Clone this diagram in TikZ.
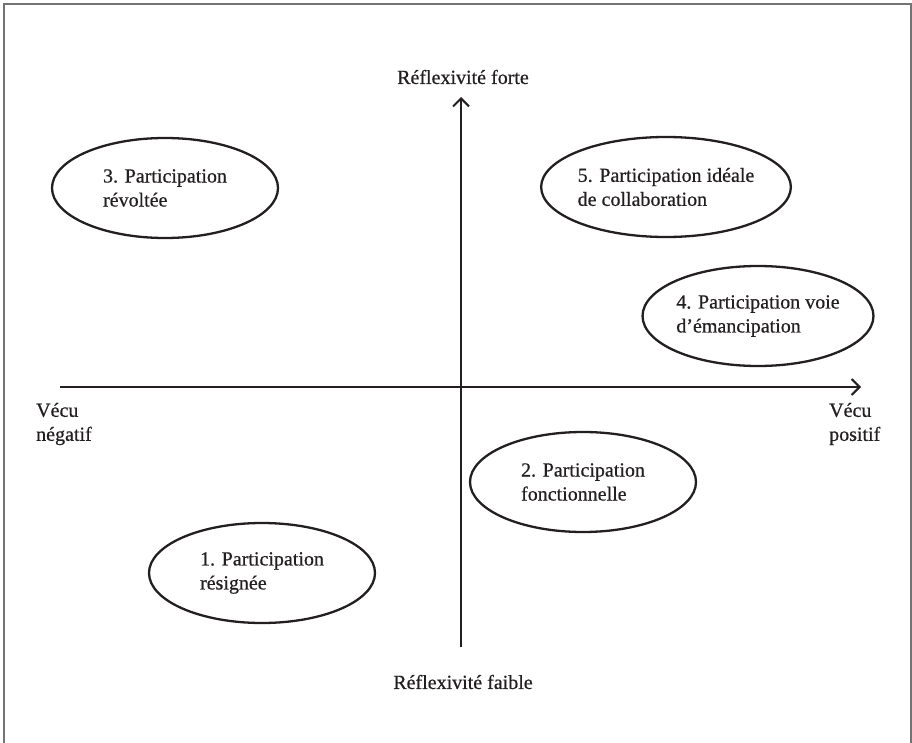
\documentclass[tikz,border=0pt]{standalone}
\usepackage{fontspec}
\setmainfont{Liberation Serif}[FakeBold=0.6]
\usetikzlibrary{shapes.geometric,arrows.meta}
\definecolor{ink}{HTML}{231F20}
\tikzset{
  quad/.style={ellipse, draw=ink, line width=2.3pt, minimum width=226pt, minimum height=100pt, inner sep=0pt, align=left, text=ink, font=\fontsize{20}{24}\selectfont},
  lbl/.style={inner sep=0pt, text=ink, font=\fontsize{20}{24}\selectfont},
  axis/.style={draw=ink, line width=2.3pt, -{Straight Barb[length=8pt,width=16pt,line width=2pt]}},
  frame/.style={draw=black!55, line width=1.2pt}
}
\begin{document}
\begin{tikzpicture}[x=1pt,y=-1pt]
\useasboundingbox (0,0) rectangle (912,743);
\draw[frame] (4,743) -- (4,4) -- (911,4) -- (911,743);
% axes
\coordinate (ybot) at (461,647);
\coordinate (ytop) at (461,97);
\coordinate (xl) at (60,387);
\coordinate (xr) at (861,387);
\draw[axis] (ybot) -- (ytop);
\draw[axis] (xl) -- (xr);
% axis labels
\node[lbl] (forte) at (463,77) {Réflexivité forte};
\node[lbl] (faible) at (463,682) {Réflexivité faible};
\node[lbl, anchor=west, align=left] (neg) at (36,424) {Vécu\\négatif};
\node[lbl, anchor=west, align=left] (pos) at (829,424) {Vécu\\positif};
% quadrant ellipses
\node[quad] (e3) at (165,188) {3. Participation\\révoltée};
\node[quad] (e5) at (666,187) {5. Participation idéale\\de collaboration};
\node[quad] (e4) at (758,316) {4. Participation voie\\d’émancipation};
\node[quad] (e2) at (583,482) {2. Participation\\fonctionnelle};
\node[quad] (e1) at (262,573) {1. Participation\\résignée};
\end{tikzpicture}
\end{document}
